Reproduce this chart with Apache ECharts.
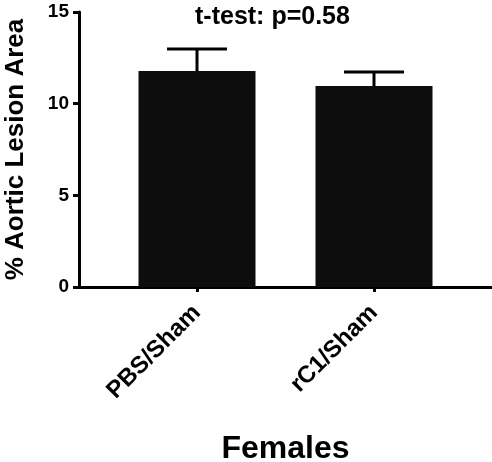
<!DOCTYPE html>
<html>
<head>
<meta charset="utf-8">
<script src="https://cdn.jsdelivr.net/npm/echarts@6/dist/echarts.min.js"></script>
<style>
  html, body { margin: 0; padding: 0; background: #fff; }
  #chart { width: 492px; height: 462px; }
</style>
</head>
<body>
<div id="chart"></div>
<script>
// 数据
const groups = ['PBS/Sham', 'rC1/Sham'];
const means = [11.78, 10.96];
const errUpper = [12.98, 11.73];
const yTicks = [0, 5, 10, 15];

const FONT = '"Liberation Sans", Arial, sans-serif';

// x轴用数值轴, 组别放在 1, 2 位置
const barData = means.map((v, i) => [i + 1, v]);
const errData = means.map((v, i) => [i + 1, v, errUpper[i]]);

let chart = echarts.init(document.getElementById('chart'));
let option = {
  animation: false,
  title: {
    text: 't-test: p=0.58',
    left: 195,
    top: 5,
    padding: 0,
    textStyle: { fontFamily: FONT, fontSize: 25, fontWeight: 'bold', color: '#000' }
  },
  grid: { left: 79, right: 0, top: 12, bottom: 175, outerBoundsMode: 'none', containLabel: false },
  xAxis: {
    type: 'value',
    min: 1 / 3,
    max: 8 / 3,
    splitLine: { show: false },
    axisLine: { lineStyle: { color: '#000', width: 3 } },
    axisTick: { show: true, customValues: [1, 2], length: 5, lineStyle: { color: '#000', width: 3 } },
    axisLabel: {
      customValues: [1, 2],
      rotate: 45,
      margin: 22,
      formatter: v => groups[Math.round(v) - 1] || '',
      fontFamily: FONT, fontSize: 24, fontWeight: 'bold', color: '#000'
    },
    name: 'Females',
    nameLocation: 'middle',
    nameGap: 146,
    nameTextStyle: { fontFamily: FONT, fontSize: 32, fontWeight: 'bold', color: '#000' }
  },
  yAxis: {
    type: 'value',
    min: 0,
    max: 15,
    interval: 5,
    splitLine: { show: false },
    axisLine: { show: true, lineStyle: { color: '#000', width: 3 } },
    axisTick: { show: true, length: 6, lineStyle: { color: '#000', width: 3 } },
    axisLabel: {
      margin: 10,
      formatter: v => yTicks.includes(v) ? String(v) : '',
      fontFamily: FONT, fontSize: 19, fontWeight: 'bold', color: '#000'
    },
    name: '% Aortic Lesion Area',
    nameLocation: 'middle',
    nameGap: 50,
    nameTextStyle: { fontFamily: FONT, fontSize: 26, fontWeight: 'bold', color: '#000' }
  },
  series: [
    {
      type: 'bar',
      data: barData,
      barWidth: 117,
      itemStyle: { color: '#0d0d0d' },
      z: 2
    },
    {
      type: 'custom',
      data: errData,
      z: 3,
      renderItem: function (params, api) {
        let base = api.coord([api.value(0), api.value(1)]);
        let top = api.coord([api.value(0), api.value(2)]);
        let capHalf = 30;
        let style = { stroke: '#000', lineWidth: 3 };
        return {
          type: 'group',
          children: [
            { type: 'line', shape: { x1: top[0], y1: base[1], x2: top[0], y2: top[1] }, style: style },
            { type: 'line', shape: { x1: top[0] - capHalf, y1: top[1], x2: top[0] + capHalf, y2: top[1] }, style: style }
          ]
        };
      }
    }
  ]
};
chart.setOption(option);
</script>
</body>
</html>
